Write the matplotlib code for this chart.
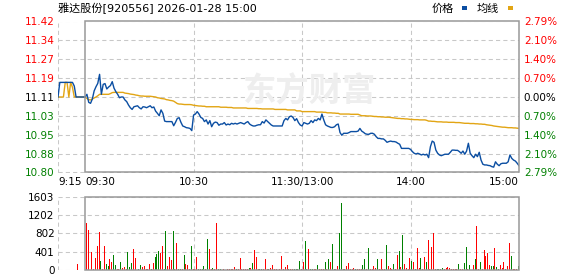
import numpy as np
import matplotlib
matplotlib.use("Agg")
import matplotlib.pyplot as plt
from matplotlib.patches import Rectangle

# ---------------- data ----------------
title = "雅达股份[920556] 2026-01-28 15:00"
legend_labels = ["价格", "均线"]
prev_close = 11.11

price_levels = [10.80, 10.8775, 10.955, 11.0325, 11.11, 11.1875, 11.265, 11.3425, 11.42]
price_labels = ["10.80", "10.88", "10.95", "11.03", "11.11", "11.19", "11.27", "11.34", "11.42"]
pct_labels = ["2.79%", "2.10%", "1.40%", "0.70%", "0.00%", "0.70%", "1.40%", "2.10%", "2.79%"]
vol_levels = [0, 401, 802, 1202, 1603]
vol_labels = ["0", "401", "802", "1202", "1603"]
time_ticks = [-15, 0, 60, 120, 180, 240]
time_labels = ["9:15", "09:30", "10:30", "11:30/13:00", "14:00", "15:00"]

# pre-market (9:15 - 9:30), one value per minute
pre_price = [11.11, 11.17, 11.17, 11.17, 11.17, 11.17, 11.17, 11.17, 11.17, 11.155,
             11.11, 11.11, 11.11, 11.11, 11.11, 11.11]
pre_avg = [11.11, 11.11, 11.11, 11.11, 11.17, 11.17, 11.11, 11.17, 11.15, 11.11,
           11.11, 11.11, 11.11, 11.11, 11.11, 11.11]
auction_vol = 130

# trading session, one value per minute (241 points)
price = [
    11.110, 11.121, 11.088, 11.084, 11.102, 11.135, 11.152, 11.166, 11.203, 11.121,
    11.162, 11.165, 11.143, 11.151, 11.157, 11.173, 11.146, 11.132, 11.121, 11.107,
    11.110, 11.110, 11.098, 11.091, 11.077, 11.066, 11.059, 11.070, 11.072, 11.074,
    11.066, 11.061, 11.070, 11.069, 11.066, 11.070, 11.074, 11.066, 11.069, 11.052,
    11.043, 11.033, 11.057, 11.043, 11.011, 11.009, 11.009, 11.009, 11.009, 10.992,
    11.006, 11.022, 11.025, 11.006, 10.991, 10.988, 10.984, 10.983, 10.981, 10.972,
    11.036, 11.040, 11.050, 11.040, 11.026, 11.022, 11.009, 11.016, 10.999, 11.013,
    10.988, 11.002, 11.007, 11.005, 10.994, 10.999, 10.999, 11.005, 10.995, 10.999,
    10.996, 11.002, 10.999, 11.002, 10.999, 11.002, 11.005, 11.002, 10.999, 11.005,
    11.009, 10.999, 10.994, 10.991, 10.991, 10.994, 10.996, 10.996, 11.009, 11.003,
    11.016, 11.009, 11.002, 10.995, 10.991, 10.991, 10.991, 10.991, 10.991, 10.991,
    11.013, 11.022, 11.016, 11.029, 11.032, 11.026, 11.013, 11.021, 11.005, 10.995,
    10.991, 11.005, 11.002, 10.999, 11.002, 11.013, 11.005, 11.016, 11.013, 11.022,
    11.016, 11.040, 11.016, 10.996, 10.991, 10.988, 10.985, 10.985, 10.988, 10.996,
    10.999, 10.964, 10.953, 10.961, 10.961, 10.961, 10.964, 10.968, 10.968, 10.968,
    10.968, 10.970, 10.981, 10.970, 10.965, 10.959, 10.957, 10.957, 10.961, 10.961,
    10.957, 10.947, 10.940, 10.940, 10.938, 10.938, 10.932, 10.924, 10.927, 10.929,
    10.927, 10.927, 10.925, 10.920, 10.916, 10.899, 10.899, 10.899, 10.899, 10.899,
    10.895, 10.886, 10.879, 10.876, 10.879, 10.876, 10.872, 10.875, 10.872, 10.875,
    10.861, 10.906, 10.929, 10.924, 10.892, 10.879, 10.872, 10.869, 10.872, 10.875,
    10.875, 10.875, 10.883, 10.892, 10.892, 10.891, 10.891, 10.886, 10.879, 10.888,
    10.875, 10.888, 10.920, 10.879, 10.869, 10.861, 10.875, 10.865, 10.883, 10.851,
    10.834, 10.831, 10.831, 10.829, 10.828, 10.824, 10.822, 10.844, 10.834, 10.828,
    10.836, 10.838, 10.838, 10.838, 10.844, 10.872, 10.858, 10.851, 10.847, 10.838,
    10.828,
]
avg_price = [
    11.110, 11.104, 11.099, 11.098, 11.102, 11.106, 11.110, 11.115, 11.121, 11.121,
    11.121, 11.121, 11.121, 11.121, 11.124, 11.128, 11.129, 11.129, 11.129, 11.129,
    11.129, 11.129, 11.126, 11.125, 11.124, 11.122, 11.121, 11.120, 11.118, 11.117,
    11.115, 11.114, 11.114, 11.113, 11.113, 11.113, 11.113, 11.112, 11.111, 11.110,
    11.107, 11.106, 11.104, 11.103, 11.102, 11.099, 11.098, 11.096, 11.095, 11.093,
    11.088, 11.083, 11.081, 11.081, 11.080, 11.079, 11.079, 11.079, 11.079, 11.078,
    11.076, 11.075, 11.074, 11.073, 11.073, 11.072, 11.072, 11.070, 11.070, 11.070,
    11.070, 11.070, 11.070, 11.070, 11.070, 11.068, 11.068, 11.068, 11.068, 11.067,
    11.067, 11.067, 11.065, 11.065, 11.065, 11.065, 11.065, 11.065, 11.065, 11.065,
    11.063, 11.063, 11.063, 11.063, 11.063, 11.063, 11.062, 11.062, 11.061, 11.061,
    11.061, 11.061, 11.061, 11.061, 11.061, 11.059, 11.059, 11.059, 11.059, 11.059,
    11.059, 11.059, 11.057, 11.057, 11.057, 11.057, 11.057, 11.053, 11.053, 11.053,
    11.050, 11.050, 11.050, 11.050, 11.050, 11.050, 11.050, 11.050, 11.048, 11.048,
    11.048, 11.048, 11.047, 11.047, 11.045, 11.045, 11.045, 11.044, 11.044, 11.043,
    11.043, 11.040, 11.040, 11.040, 11.040, 11.040, 11.040, 11.039, 11.039, 11.039,
    11.039, 11.039, 11.036, 11.033, 11.033, 11.033, 11.032, 11.032, 11.032, 11.031,
    11.030, 11.030, 11.029, 11.029, 11.028, 11.028, 11.027, 11.027, 11.027, 11.026,
    11.025, 11.024, 11.023, 11.022, 11.022, 11.021, 11.021, 11.020, 11.020, 11.019,
    11.018, 11.018, 11.017, 11.017, 11.017, 11.016, 11.016, 11.016, 11.016, 11.014,
    11.011, 11.011, 11.010, 11.010, 11.009, 11.008, 11.008, 11.008, 11.007, 11.007,
    11.007, 11.006, 11.006, 11.006, 11.006, 11.005, 11.005, 11.005, 11.004, 11.003,
    11.002, 11.002, 11.002, 11.001, 11.001, 11.001, 11.000, 11.000, 10.999, 10.999,
    10.998, 10.998, 10.996, 10.995, 10.994, 10.993, 10.991, 10.990, 10.989, 10.988,
    10.987, 10.986, 10.986, 10.985, 10.984, 10.984, 10.984, 10.983, 10.983, 10.982,
    10.981,
]
# per-minute volume (240 bars) and direction (r = up, g = down)
volume = [
    1025, 866, 347, 390, 30, 260, 520, 837, 195, 20,
    520, 130, 87, 238, 173, 325, 101, 20, 30, 173,
    43, 58, 30, 390, 65, 152, 462, 260, 15, 15,
    101, 58, 80, 20, 20, 130, 15, 152, 274, 347,
    411, 375, 520, 20, 845, 87, 282, 216, 859, 20,
    592, 20, 20, 20, 325, 130, 108, 15, 520, 20,
    30, 282, 20, 20, 20, 87, 20, 671, 455, 20,
    43, 20, 1018, 15, 15, 0, 30, 0, 15, 20,
    20, 20, 58, 20, 15, 260, 20, 20, 20, 20,
    43, 43, 159, 433, 282, 20, 20, 20, 15, 238,
    20, 20, 43, 108, 20, 20, 0, 20, 303, 20,
    72, 108, 20, 20, 20, 20, 20, 20, 202, 20,
    180, 635, 20, 455, 20, 20, 20, 20, 108, 20,
    20, 20, 180, 20, 238, 180, 563, 20, 20, 87,
    809, 1473, 20, 20, 87, 152, 20, 20, 43, 20,
    20, 20, 20, 108, 238, 20, 476, 20, 20, 87,
    43, 238, 20, 238, 20, 20, 541, 87, 43, 20,
    130, 20, 325, 411, 65, 758, 130, 43, 20, 260,
    195, 173, 20, 476, 43, 260, 20, 282, 173, 650,
    20, 498, 801, 20, 20, 20, 20, 43, 20, 43,
    65, 43, 20, 20, 20, 20, 130, 20, 20, 152,
    498, 20, 108, 0, 108, 238, 953, 20, 173, 20,
    433, 303, 368, 108, 87, 87, 476, 65, 20, 108,
    43, 173, 20, 87, 585, 303, 15, 15, 15, 87,
]
vol_dir = [
    "rrgrrrrrgr", "rggrrggrrg", "rrrgggrrrg", "grrrrrgrgg",
    "grrggrrrgr", "rggrgrrrgr", "rrggggrgrr", "grrggrrrrr",
    "rrrgrrrrrr", "grgrrrggrr", "rgrrrrrrrr", "rrgrrggggr",
    "rggrggrrgr", "rrgrgrggrr", "ggrgrrrrrg", "rrrggrgrrr",
    "rgrrrrgrrr", "grrgrgrrrr", "grgrrgrrgr", "rrrrggggrr",
    "rrrrrrgrrg", "grgrrgrrgr", "rrrrggrggr", "rrgrrgrrrg",
]

# ---------------- styling ----------------
RED, GREEN, BLACK = "#ff0000", "#008000", "#000000"
BLUE, GOLD = "#0b4ea2", "#e2a514"
GRID = "#c8c8c8"
BORDER = "#999999"
W, H = 578, 276

def fx(px):
    return px / W

def fy(py):
    return 1 - py / H

fig = plt.figure(figsize=(W / 100, H / 100), dpi=100)
fig.patch.set_facecolor("white")

ax = fig.add_axes([fx(58), fy(172.5), (519 - 58) / W, 151 / H])
axv = fig.add_axes([fx(58), fy(270), (519 - 58) / W, 73.3 / H])

dash = (0, (4, 3))
for a, levels in ((ax, price_levels), (axv, vol_levels)):
    a.set_xlim(-15, 240)
    for lv in levels:
        a.axhline(lv, color=GRID, lw=0.75, ls=dash, zorder=0.5)
    for t in time_ticks[:-1]:
        if t != 0:
            a.axvline(t, color=GRID, lw=0.75, ls=dash, zorder=0.5)
    for s in a.spines.values():
        s.set_visible(False)
    a.tick_params(length=0)

# main price panel
ax.set_ylim(price_levels[0], price_levels[-1])
t_pre = np.arange(-15, 1)
t_main = np.arange(0, 241)
ax.plot(t_pre, pre_avg, color=GOLD, lw=1.0, zorder=3)
ax.plot(t_pre, pre_price, color=BLUE, lw=1.0, zorder=4)
ax.plot(t_main, avg_price, color=GOLD, lw=1.0, zorder=3)
ax.plot(t_main, price, color=BLUE, lw=1.0, zorder=4)
ax.add_patch(Rectangle((0, price_levels[0]), 240, price_levels[-1] - price_levels[0],
                       fill=False, edgecolor=BORDER, lw=1.1, clip_on=False, zorder=5))
ax.text(123.6, 11.130, "东方财富", family=["Noto Sans CJK SC"], fontweight="bold",
        fontsize=24, color="#eeeeee", ha="center", va="center", zorder=1)

ax.set_yticks(price_levels)
ax.set_yticklabels(price_labels, fontsize=7.5)
for lbl, lv in zip(ax.get_yticklabels(), price_levels):
    lbl.set_color(RED if lv > prev_close + 1e-9 else (GREEN if lv < prev_close - 1e-9 else BLACK))
ax.tick_params(axis="y", pad=2.5)

ax.set_xticks(time_ticks)
ax.set_xticklabels(time_labels, fontsize=7.5)
for lbl, ha in zip(ax.get_xticklabels(), ["left", "left", "center", "center", "center", "right"]):
    lbl.set_horizontalalignment(ha)
ax.tick_params(axis="x", pad=3.5)

ax2 = ax.twinx()
ax2.set_ylim(price_levels[0], price_levels[-1])
ax2.set_yticks(price_levels)
ax2.set_yticklabels(pct_labels, fontsize=7.5)
for lbl, lv in zip(ax2.get_yticklabels(), price_levels):
    lbl.set_color(RED if lv > prev_close + 1e-9 else (GREEN if lv < prev_close - 1e-9 else BLACK))
ax2.tick_params(length=0, pad=3.5)
for s in ax2.spines.values():
    s.set_visible(False)

# volume panel
axv.set_ylim(vol_levels[0], vol_levels[-1])
dirs = "".join(vol_dir)
bar_x = np.arange(len(volume)) + 0.7
bar_colors = [RED if d == "r" else GREEN for d in dirs]
axv.bar(bar_x, volume, width=0.55, color=bar_colors, linewidth=0, zorder=3)
axv.bar([-4.3], [auction_vol], width=0.55, color=RED, linewidth=0, zorder=3)
axv.add_patch(Rectangle((0, 0), 240, vol_levels[-1], fill=False, edgecolor=BORDER,
                        lw=1.1, clip_on=False, zorder=5))
axv.set_yticks(vol_levels)
axv.set_yticklabels(vol_labels, fontsize=7.5, color=BLACK)
axv.tick_params(axis="y", pad=2.5)
axv.set_xticks([])

# title and legend
fig.text(fx(58), fy(8.5), title, family=["DejaVu Sans", "Noto Sans CJK SC"],
         fontsize=8, ha="left", va="center")
fig.text(fx(432), fy(8.5), legend_labels[0], family=["Noto Sans CJK SC"], fontsize=8,
         ha="left", va="center")
fig.text(fx(477), fy(8.5), legend_labels[1], family=["Noto Sans CJK SC"], fontsize=8,
         ha="left", va="center")
fig.patches.append(Rectangle((fx(462), fy(10)), 5 / W, 4 / H, transform=fig.transFigure,
                             facecolor=BLUE, edgecolor="none"))
fig.patches.append(Rectangle((fx(508), fy(10)), 5 / W, 4 / H, transform=fig.transFigure,
                             facecolor=GOLD, edgecolor="none"))

fig.savefig("out.png", dpi=100, facecolor="white")
